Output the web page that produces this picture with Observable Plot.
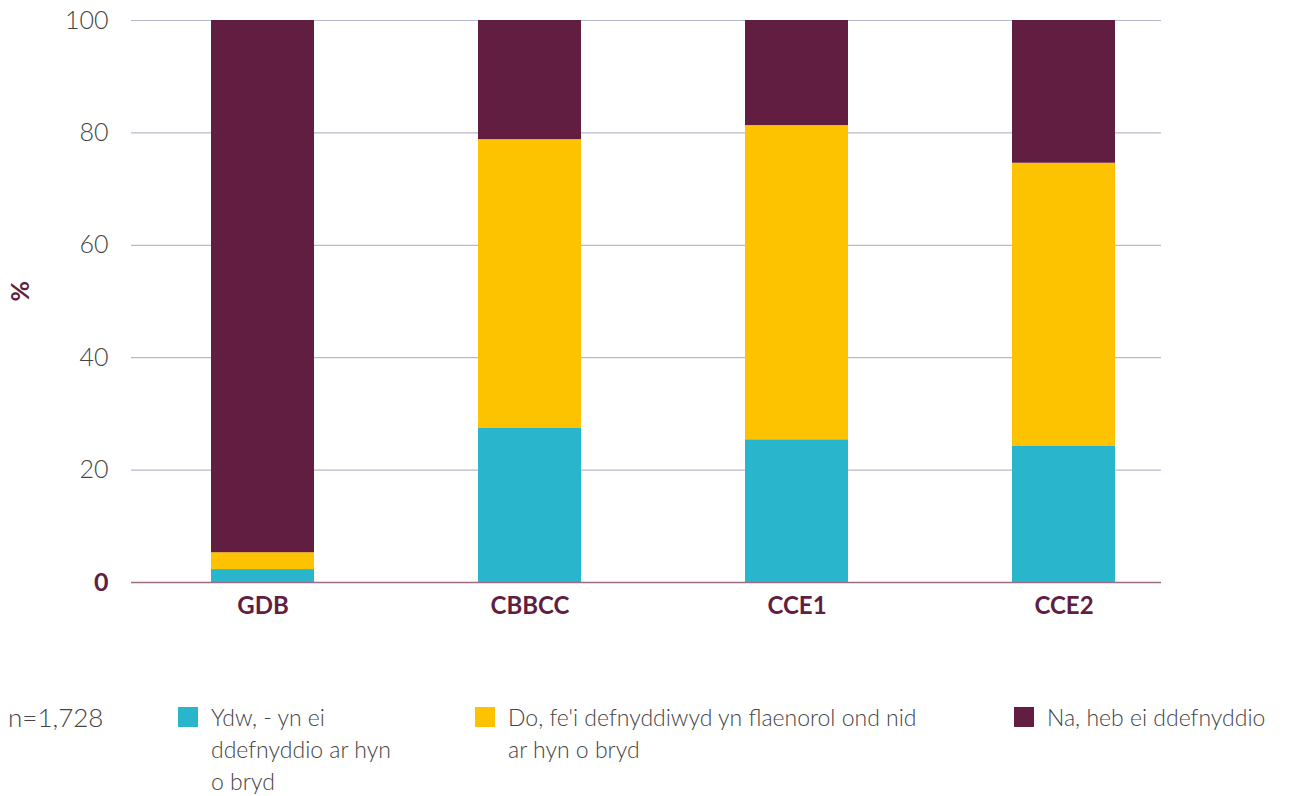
<!DOCTYPE html>
<html>
<head>
<meta charset="utf-8">
<script src="https://cdn.jsdelivr.net/npm/d3@7"></script>
<script src="https://cdn.jsdelivr.net/npm/@observablehq/plot@0.6"></script>
<style>
  body { margin: 0; background: #fff; font-family: Lato, "Open Sans", sans-serif; }
  #wrap { position: relative; width: 1290px; height: 796px; }
  #chart { position: absolute; left: 0; top: 0; }
  .legend-item { position: absolute; top: 701px; display: flex; align-items: flex-start; font-size: 23px; line-height: 32px; color: #444; font-weight: 300; }
  .sw { width: 20px; height: 20px; flex: none; margin-top: 6px; margin-right: 13px; }
  #ncount { position: absolute; left: 8px; top: 701px; font-size: 26px; line-height: 32px; color: #444; font-weight: 300; }
</style>
</head>
<body>
<div id="wrap">
  <div id="chart"></div>
  <div id="ncount"></div>
</div>
<script>
const categories = ["GDB", "CBBCC", "CCE1", "CCE2"];
const seriesNames = [
  "Ydw, - yn ei ddefnyddio ar hyn o bryd",
  "Do, fe'i defnyddiwyd yn flaenorol ond nid ar hyn o bryd",
  "Na, heb ei ddefnyddio"
];
const ydwValues = [2.3, 27.5, 25.4, 24.2];
const doValues = [3.0, 51.3, 55.9, 50.4];
const naValues = [94.7, 21.2, 18.7, 25.4];
const seriesColors = ["#29b6cd", "#fdc300", "#611e40"];
const yTicks = [0, 20, 40, 60, 80, 100];
const nLabel = "n=1,728";

const purple = "#611e40";
const seriesValues = [ydwValues, doValues, naValues];
const data = [];
seriesNames.forEach((s, si) => {
  categories.forEach((c, ci) => {
    data.push({category: c, series: s, value: seriesValues[si][ci]});
  });
});

const W = 1290, H = 650;
const chart = Plot.plot({
  width: W,
  height: H,
  marginLeft: 131,
  marginRight: 129,
  marginTop: 20,
  marginBottom: H - 582,
  style: {fontFamily: "Lato, 'Open Sans', sans-serif", background: "transparent"},
  x: {domain: categories, range: [45, 1281], padding: 0.614, label: null},
  y: {domain: [0, 100], label: null},
  color: {domain: seriesNames, range: seriesColors},
  marks: [
    Plot.gridY(yTicks.filter(t => t > 0), {stroke: "#b6bacb", strokeOpacity: 1, strokeWidth: 1.2}),
    Plot.barY(data, {x: "category", y: "value", fill: "series", z: "series", order: seriesNames}),
    Plot.ruleY([0], {stroke: "#9c6e86", strokeWidth: 1.5}),
    Plot.axisY(yTicks.filter(t => t > 0), {tickSize: 0, tickPadding: 23, fontSize: 25, fill: "#444", fontWeight: 300, label: null}),
    Plot.axisY([0], {tickSize: 0, tickPadding: 23, fontSize: 25, fill: purple, fontWeight: "bold", label: null}),
    Plot.axisX({tickSize: 0, tickPadding: 14, fontSize: 24, fill: purple, fontWeight: "bold", label: null}),
    Plot.text(["%"], {frameAnchor: "left", dx: -111, rotate: -90, fontWeight: "bold", fill: purple, fontSize: 25})
  ]
});
document.getElementById("chart").appendChild(chart);
document.getElementById("ncount").textContent = nLabel;

const legendLefts = [178, 475, 1014];
const legendWidths = [218, 453, 276];
const wrap = document.getElementById("wrap");
seriesNames.forEach((s, i) => {
  const item = document.createElement("div");
  item.className = "legend-item";
  item.style.left = legendLefts[i] + "px";
  item.style.width = legendWidths[i] + "px";
  const sw = document.createElement("div");
  sw.className = "sw";
  sw.style.background = seriesColors[i];
  const tx = document.createElement("div");
  tx.textContent = s;
  item.appendChild(sw);
  item.appendChild(tx);
  wrap.appendChild(item);
});
</script>
</body>
</html>
